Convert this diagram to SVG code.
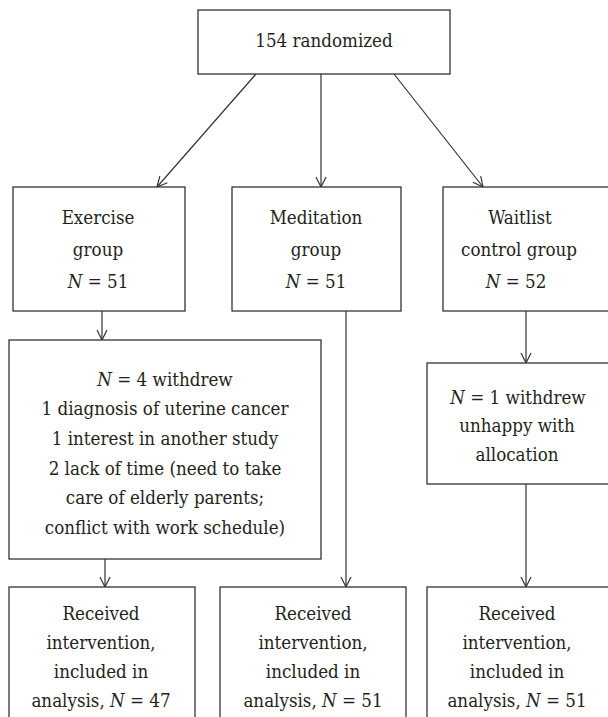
<svg xmlns="http://www.w3.org/2000/svg" width="608" height="717" viewBox="0 0 608 717">
<style>
.box{fill:#fff;stroke:#333;stroke-width:1.3}
.t{font-family:'DejaVu Serif Condensed','DejaVu Serif',serif;font-stretch:condensed;font-size:18.6px;fill:#231f20;text-anchor:middle}
.i{font-style:italic}
.c{fill:none;stroke:#333;stroke-width:1.2}
</style>
<defs>
<marker id="ah" viewBox="0 0 12 12" refX="11" refY="6" markerWidth="12" markerHeight="12" markerUnits="userSpaceOnUse" orient="auto">
<path d="M1,1 L11,6 L1,11" fill="none" stroke="#333" stroke-width="1.2"/>
</marker>
</defs>
<rect width="608" height="717" fill="#fff"/>
<g id="connectors">
<line class="c" x1="256" y1="74" x2="157" y2="187" marker-end="url(#ah)"/>
<line class="c" x1="321" y1="74" x2="321" y2="187" marker-end="url(#ah)"/>
<line class="c" x1="394" y1="74" x2="483" y2="187" marker-end="url(#ah)"/>
<line class="c" x1="102" y1="311" x2="102" y2="340" marker-end="url(#ah)"/>
<line class="c" x1="105" y1="559" x2="105" y2="587" marker-end="url(#ah)"/>
<line class="c" x1="346" y1="311" x2="346" y2="587" marker-end="url(#ah)"/>
<line class="c" x1="526" y1="311" x2="526" y2="363" marker-end="url(#ah)"/>
<line class="c" x1="526" y1="484" x2="526" y2="587" marker-end="url(#ah)"/>
</g>
<g id="randomized">
<rect class="box" x="198" y="10" width="252" height="64"/>
<text class="t" x="324" y="47">154 randomized</text>
</g>
<g id="exercise">
<rect class="box" x="13" y="187" width="172" height="124"/>
<text class="t" x="98" y="224">Exercise</text>
<text class="t" x="98" y="256">group</text>
<text class="t" x="98" y="288"><tspan class="i">N</tspan> = 51</text>
</g>
<g id="meditation">
<rect class="box" x="232" y="187" width="169" height="124"/>
<text class="t" x="316" y="224">Meditation</text>
<text class="t" x="316" y="256">group</text>
<text class="t" x="316" y="288"><tspan class="i">N</tspan> = 51</text>
</g>
<g id="waitlist">
<rect class="box" x="443" y="187" width="170" height="124"/>
<text class="t" x="520" y="224">Waitlist</text>
<text class="t" x="519" y="256">control group</text>
<text class="t" x="516" y="288"><tspan class="i">N</tspan> = 52</text>
</g>
<g id="exercise-withdrew">
<rect class="box" x="9" y="340" width="312" height="219"/>
<text class="t" x="165" y="386"><tspan class="i">N</tspan> = 4 withdrew</text>
<text class="t" x="165" y="415">1 diagnosis of uterine cancer</text>
<text class="t" x="165" y="445">1 interest in another study</text>
<text class="t" x="165" y="475">2 lack of time (need to take</text>
<text class="t" x="165" y="504">care of elderly parents;</text>
<text class="t" x="165" y="534">conflict with work schedule)</text>
</g>
<g id="waitlist-withdrew">
<rect class="box" x="427" y="363" width="190" height="121"/>
<text class="t" x="518" y="404"><tspan class="i">N</tspan> = 1 withdrew</text>
<text class="t" x="517" y="432">unhappy with</text>
<text class="t" x="517" y="461">allocation</text>
</g>
<g id="exercise-analysis">
<rect class="box" x="9" y="587" width="186" height="150"/>
<text class="t" x="101" y="620">Received</text>
<text class="t" x="101" y="649">intervention,</text>
<text class="t" x="101" y="678">included in</text>
<text class="t" x="101" y="707">analysis, <tspan class="i">N</tspan> = 47</text>
</g>
<g id="meditation-analysis">
<rect class="box" x="220" y="587" width="186" height="150"/>
<text class="t" x="313" y="620">Received</text>
<text class="t" x="313" y="649">intervention,</text>
<text class="t" x="313" y="678">included in</text>
<text class="t" x="313" y="707">analysis, <tspan class="i">N</tspan> = 51</text>
</g>
<g id="waitlist-analysis">
<rect class="box" x="427" y="587" width="190" height="150"/>
<text class="t" x="517" y="620">Received</text>
<text class="t" x="517" y="649">intervention,</text>
<text class="t" x="517" y="678">included in</text>
<text class="t" x="517" y="707">analysis, <tspan class="i">N</tspan> = 51</text>
</g>
</svg>
